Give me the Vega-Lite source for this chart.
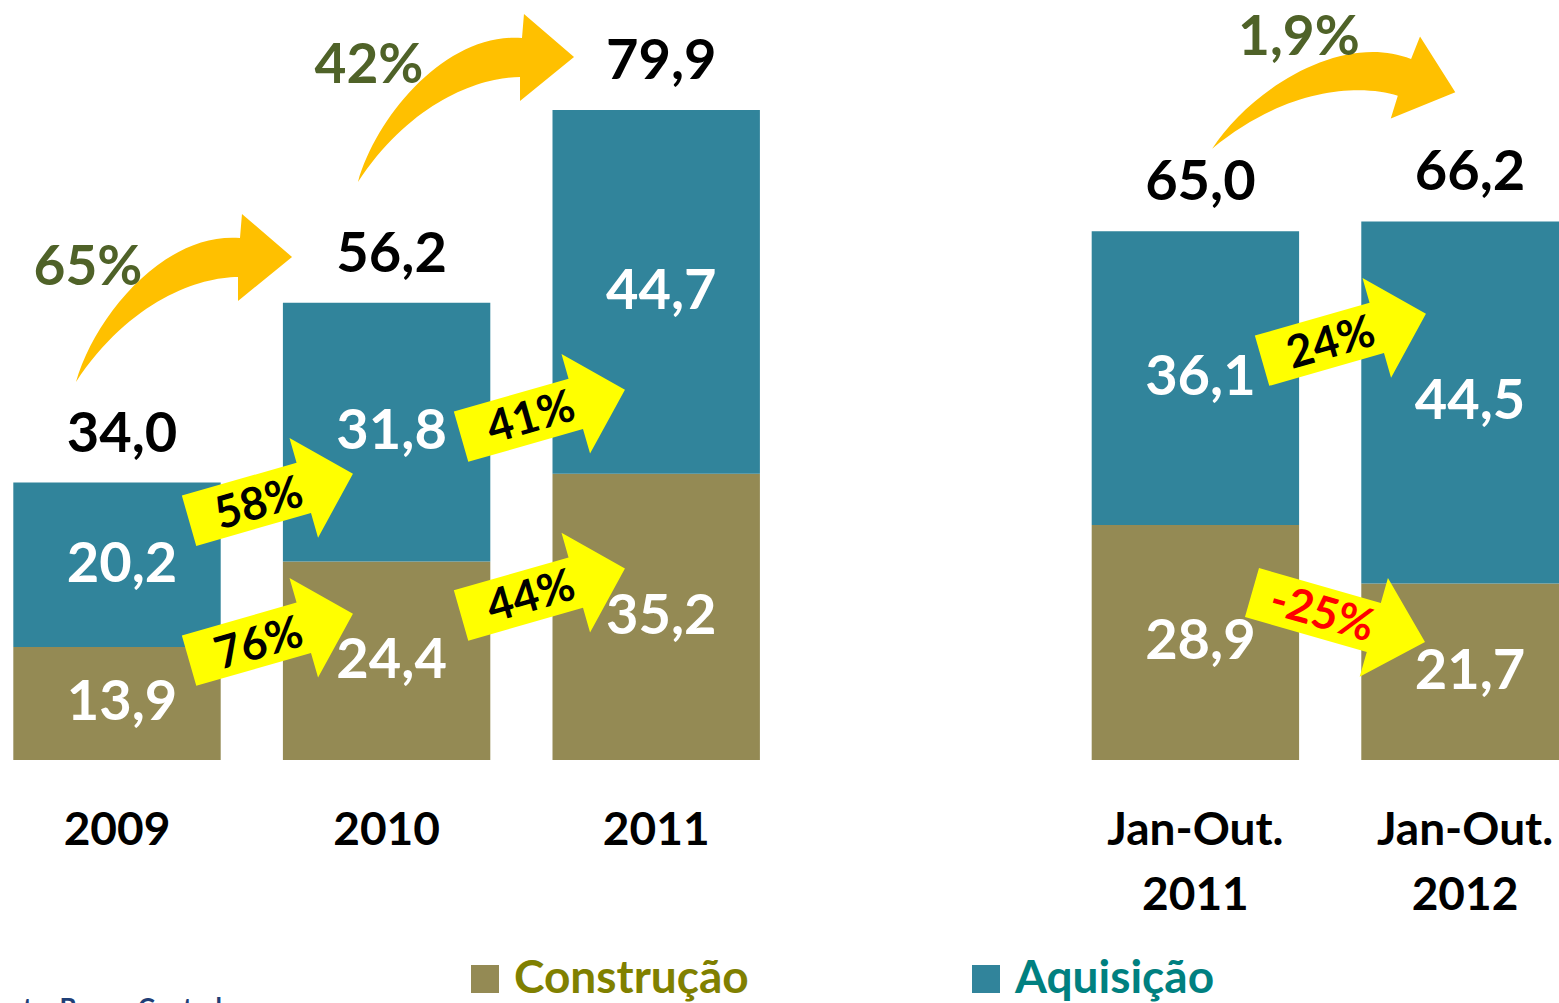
{
  "$schema": "https://vega.github.io/schema/vega-lite/v6.json",
  "width": 1559,
  "height": 1003,
  "autosize": {"type": "none"},
  "padding": 0,
  "background": "white",
  "config": {
    "view": {"stroke": null},
    "font": "Lato",
    "scale": {"continuousPadding": 0},
    "locale": {"number": {"decimal": ",", "thousands": ".", "grouping": [3], "currency": ["R$", ""]}}
  },
  "datasets": {
    "bars": [
      {"pos": 0, "series": "Construção", "order": 1, "value": 13.9},
      {"pos": 0, "series": "Aquisição", "order": 2, "value": 20.2},
      {"pos": 1, "series": "Construção", "order": 1, "value": 24.4},
      {"pos": 1, "series": "Aquisição", "order": 2, "value": 31.8},
      {"pos": 2, "series": "Construção", "order": 1, "value": 35.2},
      {"pos": 2, "series": "Aquisição", "order": 2, "value": 44.7},
      {"pos": 4, "series": "Construção", "order": 1, "value": 28.9},
      {"pos": 4, "series": "Aquisição", "order": 2, "value": 36.1},
      {"pos": 5, "series": "Construção", "order": 1, "value": 21.7},
      {"pos": 5, "series": "Aquisição", "order": 2, "value": 44.5}
    ],
    "totals": [
      {"pos": 0, "total": 34.0, "cat": "2009"},
      {"pos": 1, "total": 56.2, "cat": "2010"},
      {"pos": 2, "total": 79.9, "cat": "2011"},
      {"pos": 4, "total": 65.0, "cat": "Jan-Out.\n2011"},
      {"pos": 5, "total": 66.2, "cat": "Jan-Out.\n2012"}
    ],
    "curved": [
      {"x": 0.2485, "y": 56.79, "lx": -0.1076, "ly": 60.48, "label": "65%"},
      {"x": 1.2945, "y": 81.38, "lx": 0.9347, "ly": 85.31, "label": "42%"}
    ],
    "curvedFlat": [
      {"x": 4.5364, "y": 81.13, "lx": 4.384, "ly": 88.8, "label": "1,9%"}
    ],
    "up": [
      {"x": 0.5712, "y": 32.30, "lx": 0.5267, "ly": 31.47, "label": "58%"},
      {"x": 0.5712, "y": 15.10, "lx": 0.5267, "ly": 14.26, "label": "76%"},
      {"x": 1.5801, "y": 42.63, "lx": 1.5356, "ly": 42.04, "label": "41%"},
      {"x": 1.5801, "y": 20.65, "lx": 1.5356, "ly": 20.04, "label": "44%"},
      {"x": 4.5512, "y": 51.97, "lx": 4.5030, "ly": 51.23, "label": "24%"}
    ],
    "down": [
      {"x": 4.5308, "y": 17.54, "lx": 4.4696, "ly": 17.95, "label": "-25%"}
    ],
    "source": [
      {"x": 0.389, "y": -29.01, "label": "Fonte: Banco Central"}
    ]
  },
  "layer": [
    {
      "data": {"name": "bars"},
      "transform": [
        {"stack": "value", "groupby": ["pos"], "sort": [{"field": "order", "order": "ascending"}], "as": ["v0", "v1"]}
      ],
      "mark": {"type": "bar", "width": 207.4, "clip": true, "opacity": 1},
      "encoding": {
        "x": {"field": "pos", "type": "quantitative", "scale": {"domain": [-0.434, 5.3487], "nice": false, "zero": false, "padding": 0}, "axis": null},
        "y": {"field": "v1", "type": "quantitative", "scale": {"domain": [-29.87, 93.42], "nice": false, "zero": false}, "axis": null},
        "y2": {"field": "v0"},
        "color": {
          "field": "series",
          "type": "nominal",
          "scale": {"domain": ["Construção", "Aquisição"], "range": ["#948A54", "#31849B"]},
          "legend": {
            "orient": "none",
            "legendX": 462,
            "legendY": 956,
            "direction": "horizontal",
            "title": null,
            "symbolType": "square",
            "symbolSize": 784,
            "symbolStrokeWidth": 0,
            "symbolOpacity": 1,
            "labelFont": "Lato",
            "labelFontSize": 46,
            "labelFontWeight": "bold",
            "labelOffset": 6,
            "labelLimit": 500,
            "columnPadding": 214,
            "encode": {"labels": {"update": {"fill": {"signal": "datum.label === 'Construção' ? '#808000' : '#008080'"}}}}
          }
        }
      }
    },
    {
      "data": {"name": "bars"},
      "transform": [
        {"stack": "value", "groupby": ["pos"], "sort": [{"field": "order", "order": "ascending"}], "as": ["v0", "v1"]},
        {"fold": ["v0", "v1"], "as": ["edge", "ev"]},
        {"aggregate": [{"op": "mean", "field": "ev", "as": "mid"}], "groupby": ["pos", "series", "value"]}
      ],
      "mark": {"type": "text", "font": "Lato", "fontWeight": "bold", "fontSize": 56, "color": "white", "align": "center", "baseline": "middle", "dx": 5},
      "encoding": {
        "x": {"field": "pos", "type": "quantitative", "scale": {"domain": [-0.434, 5.3487], "nice": false, "zero": false, "padding": 0}, "axis": null},
        "y": {"field": "mid", "type": "quantitative", "scale": {"domain": [-29.87, 93.42], "nice": false, "zero": false}, "axis": null},
        "text": {"field": "value", "type": "quantitative", "format": ".1f"}
      }
    },
    {
      "data": {"name": "totals"},
      "mark": {"type": "text", "font": "Lato", "fontWeight": "bold", "fontSize": 56, "color": "black", "align": "center", "baseline": "middle", "dy": -48, "dx": 5},
      "encoding": {
        "x": {"field": "pos", "type": "quantitative", "scale": {"domain": [-0.434, 5.3487], "nice": false, "zero": false, "padding": 0}, "axis": null},
        "y": {"field": "total", "type": "quantitative", "scale": {"domain": [-29.87, 93.42], "nice": false, "zero": false}, "axis": null},
        "text": {"field": "total", "type": "quantitative", "format": ".1f"}
      }
    },
    {
      "data": {"name": "totals"},
      "mark": {"type": "text", "font": "Lato", "fontWeight": "bold", "fontSize": 46, "color": "black", "align": "center", "baseline": "top", "lineBreak": "\n", "lineHeight": 65},
      "encoding": {
        "x": {"field": "pos", "type": "quantitative", "scale": {"domain": [-0.434, 5.3487], "nice": false, "zero": false, "padding": 0}, "axis": null},
        "y": {"datum": -5.97, "type": "quantitative", "scale": {"domain": [-29.87, 93.42], "nice": false, "zero": false}, "axis": null},
        "text": {"field": "cat", "type": "nominal"}
      }
    },
    {
      "data": {"name": "curved"},
      "mark": {"type": "point", "filled": true, "opacity": 1, "color": "#FFC000", "strokeWidth": 0, "size": 48400,
        "shape": "M -0.982 0.764 C -0.809 0.155 -0.173 -0.6 0.509 -0.545 L 0.527 -0.764 L 0.982 -0.373 L 0.491 0.027 L 0.491 -0.191 C 0.145 -0.191 -0.491 0.018 -0.982 0.764 Z"},
      "encoding": {
        "x": {"field": "x", "type": "quantitative", "scale": {"domain": [-0.434, 5.3487], "nice": false, "zero": false, "padding": 0}, "axis": null},
        "y": {"field": "y", "type": "quantitative", "scale": {"domain": [-29.87, 93.42], "nice": false, "zero": false}, "axis": null}
      }
    },
    {
      "data": {"name": "curvedFlat"},
      "mark": {"type": "point", "filled": true, "opacity": 1, "color": "#FFC000", "strokeWidth": 0, "size": 48400, "angle": 17,
        "shape": "M -0.982 0.764 C -0.809 0.155 -0.173 -0.6 0.509 -0.545 L 0.527 -0.764 L 0.982 -0.373 L 0.491 0.027 L 0.491 -0.191 C 0.145 -0.191 -0.491 0.018 -0.982 0.764 Z"},
      "encoding": {
        "x": {"field": "x", "type": "quantitative", "scale": {"domain": [-0.434, 5.3487], "nice": false, "zero": false, "padding": 0}, "axis": null},
        "y": {"field": "y", "type": "quantitative", "scale": {"domain": [-29.87, 93.42], "nice": false, "zero": false}, "axis": null}
      }
    },
    {
      "data": {"name": "curved"},
      "mark": {"type": "text", "font": "Lato", "fontWeight": "bold", "fontSize": 55, "color": "#4F6228", "align": "center", "baseline": "middle"},
      "encoding": {
        "x": {"field": "lx", "type": "quantitative", "scale": {"domain": [-0.434, 5.3487], "nice": false, "zero": false, "padding": 0}, "axis": null},
        "y": {"field": "ly", "type": "quantitative", "scale": {"domain": [-29.87, 93.42], "nice": false, "zero": false}, "axis": null},
        "text": {"field": "label", "type": "nominal"}
      }
    },
    {
      "data": {"name": "curvedFlat"},
      "mark": {"type": "text", "font": "Lato", "fontWeight": "bold", "fontSize": 55, "color": "#4F6228", "align": "center", "baseline": "middle"},
      "encoding": {
        "x": {"field": "lx", "type": "quantitative", "scale": {"domain": [-0.434, 5.3487], "nice": false, "zero": false, "padding": 0}, "axis": null},
        "y": {"field": "ly", "type": "quantitative", "scale": {"domain": [-29.87, 93.42], "nice": false, "zero": false}, "axis": null},
        "text": {"field": "label", "type": "nominal"}
      }
    },
    {
      "data": {"name": "up"},
      "mark": {"type": "point", "filled": true, "opacity": 1, "color": "#FFFF00", "strokeWidth": 0, "size": 29070, "angle": -16,
        "shape": "M -1 -0.307 L 0.4 -0.307 L 0.4 -0.608 L 1 0 L 0.4 0.608 L 0.4 0.307 L -1 0.307 Z"},
      "encoding": {
        "x": {"field": "x", "type": "quantitative", "scale": {"domain": [-0.434, 5.3487], "nice": false, "zero": false, "padding": 0}, "axis": null},
        "y": {"field": "y", "type": "quantitative", "scale": {"domain": [-29.87, 93.42], "nice": false, "zero": false}, "axis": null}
      }
    },
    {
      "data": {"name": "up"},
      "mark": {"type": "text", "font": "Lato", "fontWeight": "bold", "fontSize": 45, "color": "black", "align": "center", "baseline": "middle", "angle": -16},
      "encoding": {
        "x": {"field": "lx", "type": "quantitative", "scale": {"domain": [-0.434, 5.3487], "nice": false, "zero": false, "padding": 0}, "axis": null},
        "y": {"field": "ly", "type": "quantitative", "scale": {"domain": [-29.87, 93.42], "nice": false, "zero": false}, "axis": null},
        "text": {"field": "label", "type": "nominal"}
      }
    },
    {
      "data": {"name": "down"},
      "mark": {"type": "point", "filled": true, "opacity": 1, "color": "#FFFF00", "strokeWidth": 0, "size": 32400, "angle": 16,
        "shape": "M -1 -0.283 L 0.408 -0.283 L 0.408 -0.57 L 1 0 L 0.408 0.57 L 0.408 0.283 L -1 0.283 Z"},
      "encoding": {
        "x": {"field": "x", "type": "quantitative", "scale": {"domain": [-0.434, 5.3487], "nice": false, "zero": false, "padding": 0}, "axis": null},
        "y": {"field": "y", "type": "quantitative", "scale": {"domain": [-29.87, 93.42], "nice": false, "zero": false}, "axis": null}
      }
    },
    {
      "data": {"name": "down"},
      "mark": {"type": "text", "font": "Lato", "fontWeight": "bold", "fontSize": 45, "color": "#FF0000", "align": "center", "baseline": "middle", "angle": 16},
      "encoding": {
        "x": {"field": "lx", "type": "quantitative", "scale": {"domain": [-0.434, 5.3487], "nice": false, "zero": false, "padding": 0}, "axis": null},
        "y": {"field": "ly", "type": "quantitative", "scale": {"domain": [-29.87, 93.42], "nice": false, "zero": false}, "axis": null},
        "text": {"field": "label", "type": "nominal"}
      }
    },
    {
      "data": {"name": "source"},
      "mark": {"type": "text", "font": "Lato", "fontWeight": "bold", "fontSize": 26, "color": "#1F3F77", "align": "right", "baseline": "top"},
      "encoding": {
        "x": {"field": "x", "type": "quantitative", "scale": {"domain": [-0.434, 5.3487], "nice": false, "zero": false, "padding": 0}, "axis": null},
        "y": {"field": "y", "type": "quantitative", "scale": {"domain": [-29.87, 93.42], "nice": false, "zero": false}, "axis": null},
        "text": {"field": "label", "type": "nominal"}
      }
    }
  ]
}
